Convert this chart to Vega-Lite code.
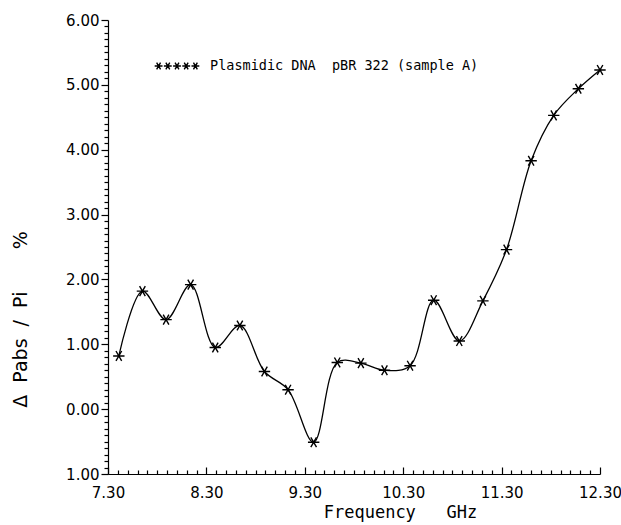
{
  "$schema": "https://vega.github.io/schema/vega-lite/v6.json",
  "autosize": {"type": "none"},
  "width": 492,
  "height": 454,
  "padding": {"left": 108, "top": 20, "right": 21, "bottom": 51},
  "background": "white",
  "config": {
    "view": {"stroke": null},
    "axis": {"grid": false, "tickColor": "black", "tickWidth": 1.2, "domainColor": "black", "domainWidth": 1.2, "labelColor": "black", "titleColor": "black"}
  },
  "data": {
    "values": [
      {"f": 7.41, "v": 0.82, "series": "Plasmidic DNA\u00a0\u00a0pBR 322 (sample A)"},
      {"f": 7.65, "v": 1.82, "series": "Plasmidic DNA\u00a0\u00a0pBR 322 (sample A)"},
      {"f": 7.89, "v": 1.38, "series": "Plasmidic DNA\u00a0\u00a0pBR 322 (sample A)"},
      {"f": 8.14, "v": 1.92, "series": "Plasmidic DNA\u00a0\u00a0pBR 322 (sample A)"},
      {"f": 8.39, "v": 0.95, "series": "Plasmidic DNA\u00a0\u00a0pBR 322 (sample A)"},
      {"f": 8.64, "v": 1.29, "series": "Plasmidic DNA\u00a0\u00a0pBR 322 (sample A)"},
      {"f": 8.89, "v": 0.58, "series": "Plasmidic DNA\u00a0\u00a0pBR 322 (sample A)"},
      {"f": 9.13, "v": 0.30, "series": "Plasmidic DNA\u00a0\u00a0pBR 322 (sample A)"},
      {"f": 9.39, "v": -0.51, "series": "Plasmidic DNA\u00a0\u00a0pBR 322 (sample A)"},
      {"f": 9.63, "v": 0.72, "series": "Plasmidic DNA\u00a0\u00a0pBR 322 (sample A)"},
      {"f": 9.87, "v": 0.71, "series": "Plasmidic DNA\u00a0\u00a0pBR 322 (sample A)"},
      {"f": 10.11, "v": 0.60, "series": "Plasmidic DNA\u00a0\u00a0pBR 322 (sample A)"},
      {"f": 10.37, "v": 0.67, "series": "Plasmidic DNA\u00a0\u00a0pBR 322 (sample A)"},
      {"f": 10.61, "v": 1.68, "series": "Plasmidic DNA\u00a0\u00a0pBR 322 (sample A)"},
      {"f": 10.87, "v": 1.05, "series": "Plasmidic DNA\u00a0\u00a0pBR 322 (sample A)"},
      {"f": 11.11, "v": 1.67, "series": "Plasmidic DNA\u00a0\u00a0pBR 322 (sample A)"},
      {"f": 11.35, "v": 2.46, "series": "Plasmidic DNA\u00a0\u00a0pBR 322 (sample A)"},
      {"f": 11.60, "v": 3.83, "series": "Plasmidic DNA\u00a0\u00a0pBR 322 (sample A)"},
      {"f": 11.83, "v": 4.53, "series": "Plasmidic DNA\u00a0\u00a0pBR 322 (sample A)"},
      {"f": 12.08, "v": 4.94, "series": "Plasmidic DNA\u00a0\u00a0pBR 322 (sample A)"},
      {"f": 12.30, "v": 5.23, "series": "Plasmidic DNA\u00a0\u00a0pBR 322 (sample A)"}
    ]
  },
  "resolve": {"scale": {"x": "shared", "y": "shared"}, "axis": {"x": "independent", "y": "independent"}},
  "layer": [
    {
      "mark": {"type": "line", "interpolate": "catmull-rom", "color": "black", "strokeWidth": 1.3},
      "encoding": {
        "x": {
          "field": "f",
          "type": "quantitative",
          "scale": {"domain": [7.3, 12.3], "nice": false, "zero": false},
          "axis": {
            "orient": "bottom",
            "title": "Frequency\u00a0\u00a0\u00a0GHz",
            "titleFont": "DejaVu Sans Mono",
            "titleFontSize": 17,
            "titleFontWeight": "normal",
            "titleX": 292,
            "titleY": 38,
            "titleBaseline": "middle",
            "titleAnchor": "middle",
            "titleAlign": "center",
            "values": [7.3, 8.3, 9.3, 10.3, 11.3, 12.3],
            "format": ".2f",
            "labelFont": "DejaVu Sans",
            "labelFontSize": 15,
            "labelOverlap": false,
            "labelFlush": false,
            "labelPadding": 18,
            "tickSize": -7
          }
        },
        "y": {
          "field": "v",
          "type": "quantitative",
          "scale": {"domain": [-1, 6], "nice": false, "zero": false},
          "axis": {
            "orient": "left",
            "title": "Δ\u00a0\u00a0Pabs\u00a0\u00a0/\u00a0\u00a0Pi\u00a0\u00a0\u00a0\u00a0\u00a0\u00a0\u00a0%",
            "titleFont": "DejaVu Sans",
            "titleFontSize": 19,
            "titleFontWeight": "normal",
            "titleX": -88,
            "titleY": 299,
            "titleBaseline": "middle",
            "titleAnchor": "middle",
            "titleAlign": "center",
            "values": [-1, 0, 1, 2, 3, 4, 5, 6],
            "labelExpr": "datum.value == -1 ? '1.00' : format(datum.value, '.2f')",
            "labelFont": "DejaVu Sans",
            "labelFontSize": 15,
            "labelOverlap": false,
            "labelFlush": false,
            "labelPadding": 2,
            "tickSize": 7
          }
        }
      }
    },
    {
      "mark": {
        "type": "point",
        "shape": "M-1,0L1,0M-0.5,-0.866L0.5,0.866M-0.5,0.866L0.5,-0.866",
        "filled": false,
        "size": 130,
        "strokeWidth": 1.4,
        "opacity": 1
      },
      "encoding": {
        "x": {
          "field": "f",
          "type": "quantitative",
          "scale": {"domain": [7.3, 12.3], "nice": false, "zero": false},
          "axis": {
            "orient": "bottom",
            "title": null,
            "labels": false,
            "domain": false,
            "values": [7.4, 7.5, 7.6, 7.7, 7.8, 7.9, 8.0, 8.1, 8.2, 8.4, 8.5, 8.6, 8.7, 8.8, 8.9, 9.0, 9.1, 9.2, 9.4, 9.5, 9.6, 9.7, 9.8, 9.9, 10.0, 10.1, 10.2, 10.4, 10.5, 10.6, 10.7, 10.8, 10.9, 11.0, 11.1, 11.2, 11.4, 11.5, 11.6, 11.7, 11.8, 11.9, 12.0, 12.1, 12.2],
            "tickSize": -4
          }
        },
        "y": {
          "field": "v",
          "type": "quantitative",
          "scale": {"domain": [-1, 6], "nice": false, "zero": false},
          "axis": {
            "orient": "left",
            "title": null,
            "labels": false,
            "domain": false,
            "values": [-0.9, -0.8, -0.7, -0.6, -0.5, -0.4, -0.3, -0.2, -0.1, 0.1, 0.2, 0.3, 0.4, 0.5, 0.6, 0.7, 0.8, 0.9, 1.1, 1.2, 1.3, 1.4, 1.5, 1.6, 1.7, 1.8, 1.9, 2.1, 2.2, 2.3, 2.4, 2.5, 2.6, 2.7, 2.8, 2.9, 3.1, 3.2, 3.3, 3.4, 3.5, 3.6, 3.7, 3.8, 3.9, 4.1, 4.2, 4.3, 4.4, 4.5, 4.6, 4.7, 4.8, 4.9, 5.1, 5.2, 5.3, 5.4, 5.5, 5.6, 5.7, 5.8, 5.9],
            "tickSize": 4
          }
        },
        "color": {
          "field": "series",
          "type": "nominal",
          "scale": {"range": ["black"]},
          "legend": {
            "title": null,
            "orient": "none",
            "legendX": 45,
            "legendY": 22,
            "padding": 0,
            "symbolType": "M-0.97,0L-0.63,0M-0.885,-0.147L-0.715,0.147M-0.885,0.147L-0.715,-0.147M-0.57,0L-0.23,0M-0.485,-0.147L-0.315,0.147M-0.485,0.147L-0.315,-0.147M-0.17,0L0.17,0M-0.085,-0.147L0.085,0.147M-0.085,0.147L0.085,-0.147M0.23,0L0.57,0M0.315,-0.147L0.485,0.147M0.315,0.147L0.485,-0.147M0.63,0L0.97,0M0.715,-0.147L0.885,0.147M0.715,0.147L0.885,-0.147",
            "symbolSize": 2116,
            "symbolStrokeWidth": 1.4,
            "symbolStrokeColor": "black",
            "symbolFillColor": "transparent",
            "labelFont": "DejaVu Sans Mono",
            "labelFontSize": 13.5,
            "labelColor": "black",
            "labelOffset": 9,
            "labelLimit": 400
          }
        }
      }
    }
  ]
}
